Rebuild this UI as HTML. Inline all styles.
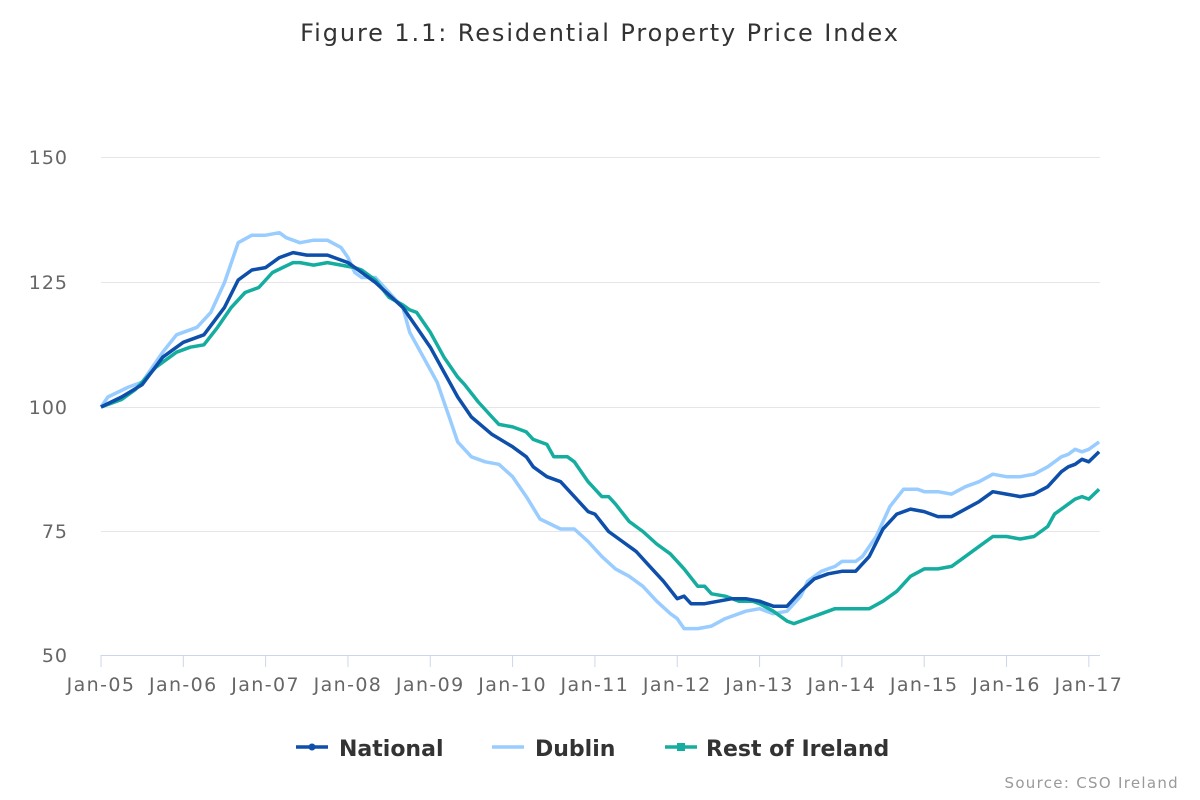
<!DOCTYPE html>
<html><head><meta charset="utf-8"><style>
html,body{margin:0;padding:0;background:#fff;width:1200px;height:800px;overflow:hidden}
text{font-family:"DejaVu Sans","Liberation Sans",sans-serif}
</style></head><body>
<svg id="s" width="1200" height="800" xmlns="http://www.w3.org/2000/svg">
<text x="600" y="41" text-anchor="middle" font-size="24" letter-spacing="1.9" fill="#333">Figure 1.1: Residential Property Price Index</text>
<g stroke="#e6e6e6" stroke-width="1">
<line x1="101" x2="1100" y1="157.5" y2="157.5"/>
<line x1="101" x2="1100" y1="282.5" y2="282.5"/>
<line x1="101" x2="1100" y1="407.5" y2="407.5"/>
<line x1="101" x2="1100" y1="531.5" y2="531.5"/>
</g>
<line x1="101" x2="1100" y1="655.5" y2="655.5" stroke="#ccd6eb"/>
<g font-size="19" letter-spacing="1" fill="#666" text-anchor="end">
<text x="68" y="164">150</text><text x="68" y="289">125</text><text x="68" y="414">100</text><text x="68" y="538">75</text><text x="68" y="662">50</text>
</g>
<g id="xt" font-size="19" letter-spacing="1.4" fill="#666" text-anchor="middle"></g>
<g id="lines" fill="none" stroke-width="3.5" stroke-linejoin="round"></g>
<g font-size="22" font-weight="bold" fill="#333">
<line x1="296" x2="328" y1="747" y2="747" stroke="#0d4faa" stroke-width="3.5"/><circle cx="312" cy="747" r="3.5" fill="#0d4faa"/>
<text x="339" y="756">National</text>
<line x1="492" x2="524" y1="747" y2="747" stroke="#99ccff" stroke-width="3.5"/>
<text x="535" y="756">Dublin</text>
<line x1="665" x2="697" y1="747" y2="747" stroke="#14ad9f" stroke-width="3.5"/><rect x="677" y="743" width="8" height="8" fill="#14ad9f"/>
<text x="706" y="756">Rest of Ireland</text>
</g>
<text x="1179" y="788" text-anchor="end" font-size="15" letter-spacing="1.3" fill="#999">Source: CSO Ireland</text>
</svg>
<script>
var NS="http://www.w3.org/2000/svg";
function X(m){return 101+m*6.86;}function Y(v){return 407-(v-100)*4.98;}
var xt=document.getElementById('xt'),labs=['05','06','07','08','09','10','11','12','13','14','15','16','17'];
labs.forEach(function(l,i){var x=X(i*12);var ln=document.createElementNS(NS,'line');ln.setAttribute('x1',x);ln.setAttribute('x2',x);ln.setAttribute('y1',655);ln.setAttribute('y2',667);ln.setAttribute('stroke','#ccd6eb');xt.appendChild(ln);
var t=document.createElementNS(NS,'text');t.setAttribute('x',x);t.setAttribute('y',691);t.textContent='Jan-'+l;xt.appendChild(t);});
var D={
dub:["#99ccff",[0,100,1,102,4,104,6,105,9,111,11,114.5,14,116,16,119,18,125,20,133,22,134.5,24,134.5,26,135,27,134,29,133,31,133.5,33,133.5,35,132,36,130,37,127,38,126,40,126,42,123,44,120,45,115,47,110,49,105,51,97,52,93,54,90,56,89,58,88.5,60,86,62,82,64,77.5,67,75.5,69,75.5,71,73,73,70,75,67.5,77,66,79,64,81,61,83,58.5,84,57.5,85,55.5,87,55.5,89,56,91,57.5,94,59,96,59.5,98,58.5,100,59,102,62,103,65,105,67,107,68,108,69,110,69,111,70,113,74,115,80,117,83.5,119,83.5,120,83,122,83,124,82.5,126,84,128,85,130,86.5,132,86,134,86,136,86.5,138,88,140,90,141,90.5,142,91.5,143,91,144,91.5,145.5,93]],
rest:["#14ad9f",[0,100,3,101.5,5,103.5,8,108,11,111,13,112,15,112.5,17,116,19,120,21,123,23,124,25,127,28,129,29,129,31,128.5,33,129,35,128.5,37,128,38,127.5,40,125.5,42,122,44,120.5,45,119.5,46,119,48,115,50,110,52,106,53,104.5,55,101,57,98,58,96.5,60,96,62,95,63,93.5,65,92.5,66,90,68,90,69,89,71,85,73,82,74,82,75,80.5,77,77,79,75,81,72.5,83,70.5,85,67.5,87,64,88,64,89,62.5,91,62,93,61,95,61,96,60.5,98,59,100,57,101,56.5,103,57.5,105,58.5,107,59.5,109,59.5,110,59.5,112,59.5,114,61,116,63,118,66,120,67.5,122,67.5,124,68,126,70,128,72,130,74,132,74,134,73.5,136,74,138,76,139,78.5,141,80.5,142,81.5,143,82,144,81.5,145.5,83.5]],
nat:["#0d4faa",[0,100,3,102,6,104.5,9,110,12,113,15,114.5,18,120,20,125.5,22,127.5,24,128,26,130,28,131,30,130.5,33,130.5,36,129,38,127,40,125,42,122.5,44,120,46,116,48,112,50,107,52,102,54,98,57,94.5,60,92,62,90,63,88,65,86,67,85,69,82,71,79,72,78.5,74,75,76,73,78,71,80,68,82,65,84,61.5,85,62,86,60.5,88,60.5,90,61,92,61.5,94,61.5,96,61,98,60,100,60,102,63,104,65.5,106,66.5,108,67,110,67,112,70,114,75.5,116,78.5,118,79.5,120,79,122,78,124,78,126,79.5,128,81,130,83,132,82.5,134,82,136,82.5,138,84,140,87,141,88,142,88.5,143,89.5,144,89,145.5,91]]};
var g=document.getElementById('lines');
['dub','rest','nat'].forEach(function(k){var c=D[k][0],a=D[k][1],p=[];for(var i=0;i<a.length;i+=2)p.push(X(a[i]).toFixed(1)+','+Y(a[i+1]).toFixed(1));
var pl=document.createElementNS(NS,'polyline');pl.setAttribute('points',p.join(' '));pl.setAttribute('stroke',c);g.appendChild(pl);});
</script>
</body></html>
